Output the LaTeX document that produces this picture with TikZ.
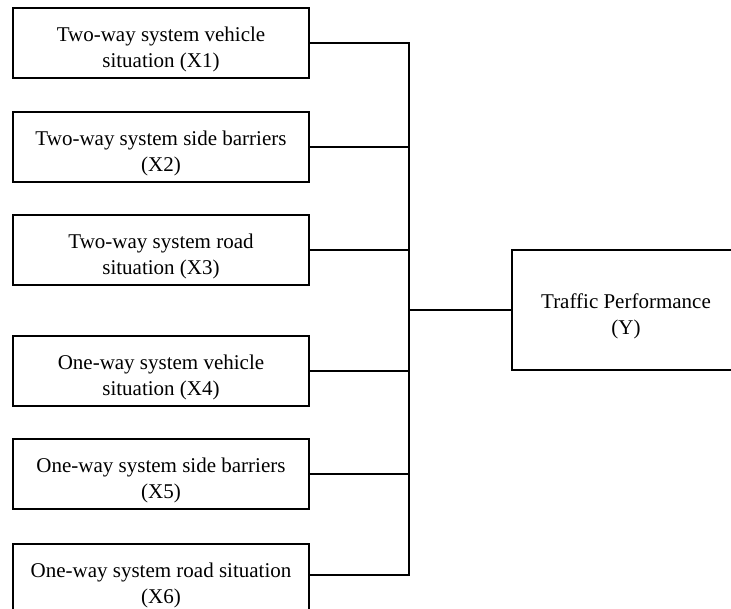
\documentclass[tikz,border=0pt]{standalone}
\usepackage{fontspec}
\setmainfont{Liberation Serif}
% invisible strut that pushes the first line of a label down a little
\newcommand{\lowerstrut}{\rule{0pt}{28pt}}
\begin{document}
\begin{tikzpicture}[x=1pt,y=-1pt,line width=2.5pt,line join=miter,
  boxtext/.style={font=\fontsize{21}{26}\selectfont},
  factor/.style={draw,boxtext,minimum width=296pt,minimum height=70pt,
    align=center,inner sep=0pt},
  outcome/.style={draw,boxtext,minimum width=228pt,minimum height=120pt,
    align=center,inner sep=0pt},
  link/.style={draw,line width=2.5pt}]
\useasboundingbox (0,0) rectangle (731,609);
\clip (0,0) rectangle (731,609);

% independent variables
\node[factor] (x1) at (161,43)  {\lowerstrut Two-way system vehicle\\situation (X1)};
\node[factor] (x2) at (161,147) {\lowerstrut Two-way system side barriers\\(X2)};
\node[factor] (x3) at (161,250) {\lowerstrut Two-way system road\\situation (X3)};
\node[factor] (x4) at (161,371) {\lowerstrut One-way system vehicle\\situation (X4)};
\node[factor] (x5) at (161,474) {\lowerstrut One-way system side barriers\\(X5)};
\node[factor] (x6) at (161,579) {\lowerstrut One-way system road situation\\(X6)};

% dependent variable
\node[outcome] (y) at (626,310) {\lowerstrut Traffic Performance\\(Y)};

% collecting bus
\coordinate (bus) at (409,0);
\coordinate (x6c) at ([yshift=4pt]x6.east);
\draw[link] (x1.east) -| (bus |- x6c) -- (x6c);
\draw[link] (x2.east) -- (x2.east -| bus);
\draw[link] (x3.east) -- (x3.east -| bus);
\draw[link] (x4.east) -- (x4.east -| bus);
\draw[link] (x5.east) -- (x5.east -| bus);
\draw[link] (y.west -| bus) -- (y.west);
\end{tikzpicture}
\end{document}
